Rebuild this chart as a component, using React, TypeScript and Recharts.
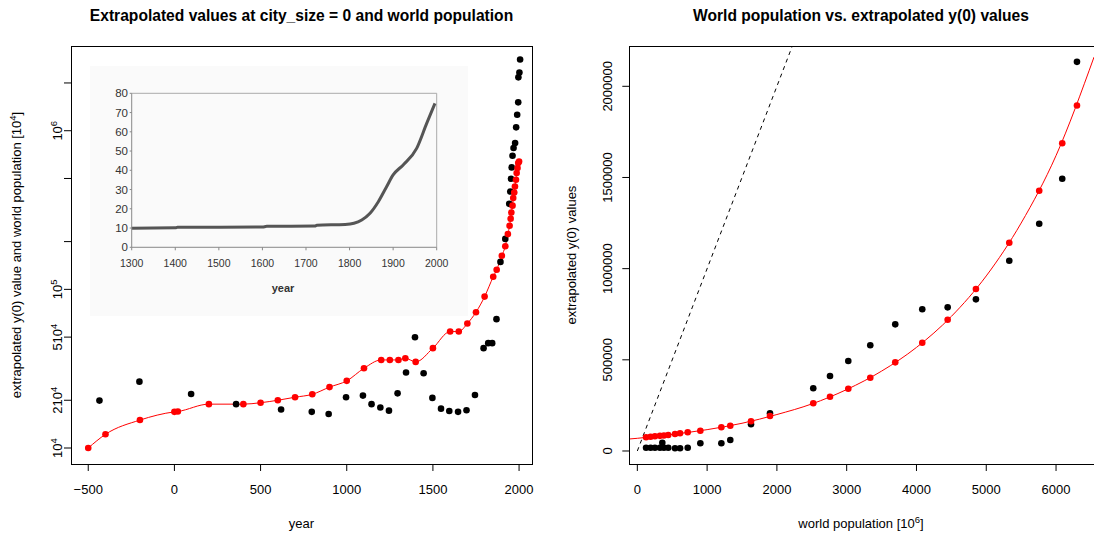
import { ComposedChart, LineChart, Line, Scatter, XAxis, YAxis, ReferenceLine } from 'recharts'

// left panel: world population (red) and extrapolated y(0) (black) by year
const leftRedYears = [-500, -400, -200, 0, 20, 200, 400, 500, 600, 700, 800, 900, 1000, 1100, 1200, 1250, 1300, 1340, 1400, 1500, 1600, 1650, 1700, 1750, 1800, 1850, 1870, 1900, 1920, 1935, 1945, 1951, 1955, 1962, 1966, 1972, 1976, 1982, 1986, 1991, 1995, 2000]
const leftRedValues = [10000, 12200, 15000, 16900, 17000, 18900, 18900, 19300, 20000, 20900, 21800, 24200, 26500, 31800, 35900, 35900, 35900, 36800, 34900, 42600, 54200, 54200, 60900, 71800, 90000, 120000, 133000, 163000, 187000, 223000, 252000, 279000, 305000, 337000, 376000, 408000, 445000, 491000, 541000, 582000, 626000, 640000]
const leftBlackYears = [-435, -203, 97, 358, 619, 797, 895, 996, 1094, 1144, 1195, 1245, 1295, 1344, 1396, 1446, 1497, 1547, 1595, 1646, 1695, 1744, 1794, 1821, 1844, 1869, 1892, 1920, 1943, 1949, 1953, 1957, 1962, 1968, 1977, 1983, 1989, 1995, 1996, 2002, 2006]
const leftBlackValues = [19900, 26200, 21900, 18900, 17500, 16900, 16400, 20900, 21400, 18900, 18000, 17200, 22100, 29900, 49900, 29600, 20700, 17700, 17100, 16900, 17300, 21600, 42600, 45800, 45800, 64900, 149000, 208000, 346000, 414000, 498000, 587000, 695000, 778000, 836000, 1050000, 1260000, 1510000, 2170000, 2330000, 2810000]

const leftXTicks = [-500, 0, 500, 1000, 1500, 2000]
const leftXLabels = ['\u2212500', '0', '500', '1000', '1500', '2000']
const leftYTicks = [10000, 20000, 50000, 100000, 200000, 500000, 1000000, 2000000]
const leftYBase = ['10', '210', '510', '10', '', '', '10', '']
const leftYExp = ['4', '4', '4', '5', '', '', '6', '']

// inset: world population 1300-2000
const insetYears = [1300, 1400, 1405, 1600, 1610, 1720, 1725, 1790, 1810, 1828, 1847, 1866, 1885, 1900, 1923, 1954, 1977, 1996]
const insetValues = [9.9, 10.1, 10.4, 10.5, 10.9, 11.0, 11.5, 11.9, 12.5, 14.2, 17.7, 23.7, 31.5, 37.6, 42.8, 51.4, 64.4, 74.8]
const insetXTicks = [1300, 1400, 1500, 1600, 1700, 1800, 1900, 2000]
const insetYTicks = [0, 10, 20, 30, 40, 50, 60, 70, 80]

// right panel: world population [10^6] vs y(0)
const rightRedPop = [125, 190, 252, 324, 381, 443, 540, 612, 722, 903, 1204, 1332, 1629, 1901, 2521, 2761, 3023, 3338, 3696, 4083, 4447, 4852, 5330, 5759, 6089, 6300]
const rightRedValues = [75100, 78000, 80500, 83000, 85000, 87500, 93200, 97000, 102500, 111300, 129900, 138700, 162800, 191900, 261500, 297700, 341500, 401900, 486200, 593700, 719800, 888200, 1142000, 1427000, 1688000, 1895000]
const rightBlackPop = [125, 190, 252, 324, 358, 381, 443, 540, 612, 722, 903, 1204, 1332, 1629, 1901, 2521, 2761, 3023, 3338, 3696, 4083, 4447, 4852, 5330, 5759, 6089, 6300]
const rightBlackValues = [18100, 18100, 18100, 18100, 45500, 18100, 18100, 14800, 14800, 18100, 42200, 42200, 60300, 146400, 206700, 343700, 411200, 493400, 579500, 694600, 776900, 787800, 831700, 1043000, 1246000, 1493000, 2134000]
const rightFitPop = [-115, 0, 500, 1000, 1500, 2000, 2500, 3000, 3500, 4000, 4500, 5000, 5500, 6000, 6544]
const rightFitValues = [65800, 69600, 91000, 117000, 152000, 200000, 258000, 337000, 438000, 568000, 738000, 960000, 1250000, 1620000, 2160000]
const diagPop = [0, 2220]
const diagValues = [0, 2220000]

const rightXTicks = [0, 1000, 2000, 3000, 4000, 5000, 6000]
const rightYTicks = [0, 500000, 1000000, 1500000, 2000000]

const zip = (xs: number[], ys: number[]) => xs.map((x, i) => ({ x, y: ys[i] }))

const FONT = '"Liberation Sans", Arial, Helvetica, sans-serif'
const THIN = 0.01 // axes need a non-zero size to be drawn

const dotShape = (color: string) => (p: any) => <circle cx={p.cx} cy={p.cy} r={3.3} fill={color} />

const LeftXTick = ({ x, payload }: any) => (
  <text x={x} y={494} textAnchor="middle" fontSize={13} fill="#000">
    {leftXLabels[leftXTicks.indexOf(payload.value)]}
  </text>
)

const LeftYTick = ({ y, payload }: any) => {
  const i = leftYTicks.indexOf(payload.value)
  if (i < 0 || !leftYBase[i]) return null
  return (
    <text x={62} y={y} transform={`rotate(-90 62 ${y})`} textAnchor="middle" fontSize={13} fill="#000">
      <tspan>{leftYBase[i]}</tspan>
      <tspan dy={-5} fontSize={9.5}>{leftYExp[i]}</tspan>
    </text>
  )
}

const RightXTick = ({ x, payload }: any) => (
  <text x={x} y={494} textAnchor="middle" fontSize={13} fill="#000">
    {payload.value}
  </text>
)

const RightYTick = ({ y, payload }: any) => (
  <text x={64.7} y={y} transform={`rotate(-90 64.7 ${y})`} textAnchor="middle" fontSize={13} fill="#000">
    {payload.value}
  </text>
)

const InsetXTick = ({ x, payload }: any) => (
  <text x={x} y={201} textAnchor="middle" fontSize={10.5} fill="#333">
    {payload.value}
  </text>
)

const InsetYTick = ({ y, payload }: any) => (
  <text x={38} y={y + 4} textAnchor="end" fontSize={11.5} fill="#333">
    {payload.value}
  </text>
)

export default function App() {
  const leftRed = zip(leftRedYears, leftRedValues)
  const leftBlack = zip(leftBlackYears, leftBlackValues)
  const insetData = zip(insetYears, insetValues)
  const rightRed = zip(rightRedPop, rightRedValues)
  const rightBlack = zip(rightBlackPop, rightBlackValues)
  const rightFit = zip(rightFitPop, rightFitValues)
  const diag = zip(diagPop, diagValues)

  return (
    <div style={{ position: 'relative', width: 1094, height: 533, background: '#fff', fontFamily: FONT, overflow: 'hidden' }}>
      <style>{'body{margin:0}'}</style>

      <div style={{ position: 'absolute', left: 0, top: 0 }}>
        <ComposedChart width={547} height={533} margin={{ top: 46, right: 15, bottom: 69, left: 71 }}>
          <XAxis
            type="number"
            dataKey="x"
            domain={[-600, 2075]}
            allowDataOverflow
            ticks={leftXTicks}
            interval={0}
            tick={<LeftXTick />}
            tickSize={7}
            tickLine={{ stroke: '#000' }}
            axisLine={false}
            height={THIN}
          />
          <YAxis
            type="number"
            dataKey="y"
            scale="log"
            domain={[7930, 3420000]}
            allowDataOverflow
            ticks={leftYTicks}
            interval={0}
            tick={<LeftYTick />}
            tickSize={7}
            tickLine={{ stroke: '#000' }}
            axisLine={false}
            width={THIN}
          />
          <Scatter data={leftBlack} dataKey="y" shape={dotShape('#000')} isAnimationActive={false} />
          <Line
            data={leftRed}
            dataKey="y"
            type="monotone"
            stroke="#ff0000"
            strokeWidth={1}
            dot={{ r: 3.3, fill: '#ff0000', stroke: '#ff0000', strokeWidth: 0 }}
            isAnimationActive={false}
          />
        </ComposedChart>
      </div>

      <div style={{ position: 'absolute', left: 90, top: 66, width: 378, height: 250, background: '#fafafa' }}>
        <LineChart width={378} height={250} data={insetData} margin={{ top: 27.3, right: 31.3, bottom: 68.7, left: 41.7 }}>
          <XAxis
            type="number"
            dataKey="x"
            domain={[1300, 2000]}
            ticks={insetXTicks}
            interval={0}
            tick={<InsetXTick />}
            tickSize={3}
            tickLine={{ stroke: '#888' }}
            axisLine={{ stroke: '#888' }}
            height={THIN}
          />
          <YAxis
            type="number"
            dataKey="y"
            domain={[0, 80]}
            ticks={insetYTicks}
            interval={0}
            tick={<InsetYTick />}
            tickSize={2}
            tickLine={{ stroke: '#888' }}
            axisLine={{ stroke: '#888' }}
            width={THIN}
          />
          <ReferenceLine y={80} stroke="#aaa" />
          <ReferenceLine x={2000} stroke="#aaa" />
          <Line dataKey="y" type="monotone" stroke="#555" strokeWidth={3} dot={false} isAnimationActive={false} />
        </LineChart>
      </div>

      <div style={{ position: 'absolute', left: 547, top: 0 }}>
        <ComposedChart width={547} height={533} margin={{ top: 46, right: 0, bottom: 69, left: 82.3 }}>
          <XAxis
            type="number"
            dataKey="x"
            domain={[-115, 6544]}
            allowDataOverflow
            ticks={rightXTicks}
            interval={0}
            tick={<RightXTick />}
            tickSize={7}
            tickLine={{ stroke: '#000' }}
            axisLine={false}
            height={THIN}
          />
          <YAxis
            type="number"
            dataKey="y"
            domain={[-71300, 2221000]}
            allowDataOverflow
            ticks={rightYTicks}
            interval={0}
            tick={<RightYTick />}
            tickSize={7}
            tickLine={{ stroke: '#000' }}
            axisLine={false}
            width={THIN}
          />
          <Line data={diag} dataKey="y" type="linear" stroke="#000" strokeWidth={1} strokeDasharray="4 4" dot={false} isAnimationActive={false} />
          <Line data={rightFit} dataKey="y" type="monotone" stroke="#ff0000" strokeWidth={1} dot={false} isAnimationActive={false} />
          <Scatter data={rightBlack} dataKey="y" shape={dotShape('#000')} isAnimationActive={false} />
          <Scatter data={rightRed} dataKey="y" shape={dotShape('#ff0000')} isAnimationActive={false} />
        </ComposedChart>
      </div>

      <svg width={1094} height={533} style={{ position: 'absolute', left: 0, top: 0, pointerEvents: 'none' }} fontFamily={FONT}>
        <rect x={71.5} y={46.5} width={461} height={418} fill="none" stroke="#000" />
        <rect x={629.5} y={46.5} width={470} height={418} fill="none" stroke="#000" />
        <text x={301.5} y={20.5} textAnchor="middle" fontSize={15.6} fontWeight="bold">
          Extrapolated values at city_size = 0 and world population
        </text>
        <text x={861} y={20.5} textAnchor="middle" fontSize={15.6} fontWeight="bold">
          World population vs. extrapolated y(0) values
        </text>
        <text x={301.5} y={527.5} textAnchor="middle" fontSize={13}>year</text>
        <text x={861} y={527.5} textAnchor="middle" fontSize={13}>
          world population [10<tspan dy={-5} fontSize={9.5}>6</tspan><tspan dy={5}>]</tspan>
        </text>
        <text x={20.6} y={255} transform="rotate(-90 20.6 255)" textAnchor="middle" fontSize={13}>
          extrapolated y(0) value and world population [10<tspan dy={-5} fontSize={9.5}>4</tspan><tspan dy={5}>]</tspan>
        </text>
        <text x={575.6} y={255} transform="rotate(-90 575.6 255)" textAnchor="middle" fontSize={13}>
          extrapolated y(0) values
        </text>
        <text x={283} y={292} textAnchor="middle" fontSize={11} fontWeight="bold" fill="#333">year</text>
      </svg>
    </div>
  )
}
